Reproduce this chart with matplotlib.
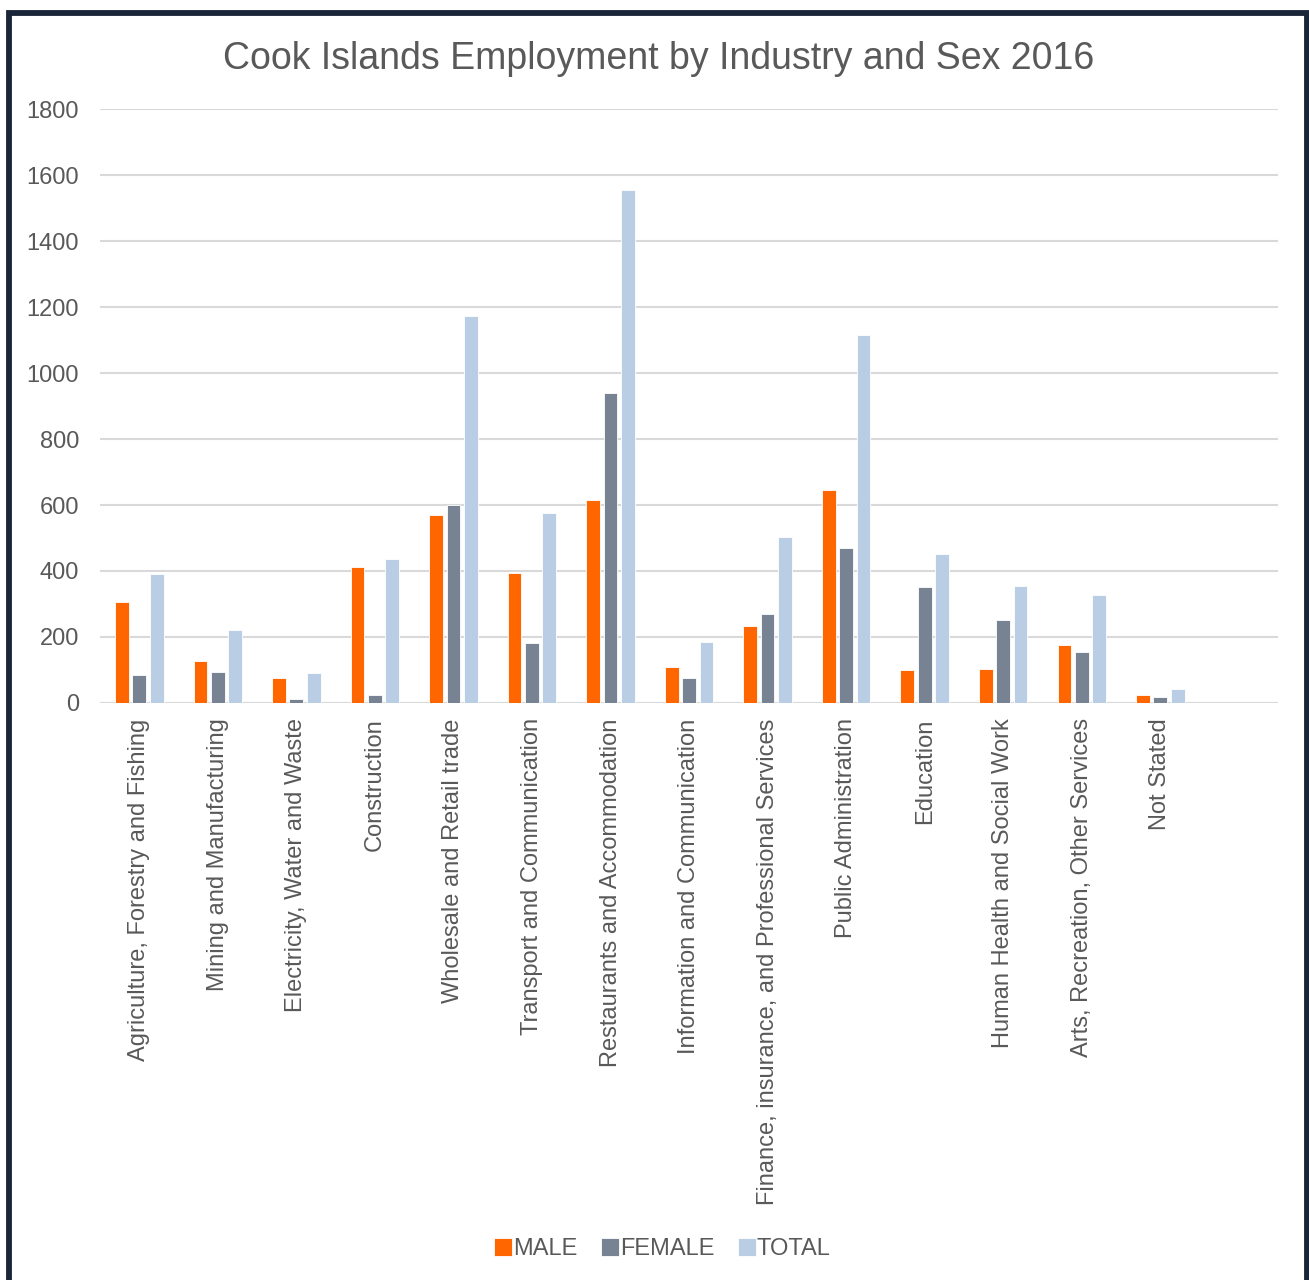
import numpy as np
import matplotlib.pyplot as plt
from matplotlib.patches import Rectangle

plt.rcParams['font.family'] = ['Liberation Sans', 'DejaVu Sans']

# Employment counts by industry, 2016
industries = [
    "Agriculture, Forestry and Fishing",
    "Mining and Manufacturing",
    "Electricity, Water and Waste",
    "Construction",
    "Wholesale and Retail trade",
    "Transport and Communication",
    "Restaurants and Accommodation",
    "Information and Communication",
    "Finance, insurance, and Professional Services",
    "Public Administration",
    "Education",
    "Human Health and Social Work",
    "Arts, Recreation, Other Services",
    "Not Stated",
]
male = [305, 126, 77, 411, 571, 393, 614, 109, 232, 645, 99, 104, 175, 23]
female = [86, 95, 13, 25, 601, 182, 940, 75, 270, 469, 353, 251, 153, 18]
total = [391, 221, 90, 436, 1172, 575, 1554, 184, 502, 1114, 452, 355, 328, 41]

series_names = ["MALE", "FEMALE", "TOTAL"]
colors = ["#FF6600", "#778292", "#B9CDE5"]
text_col = "#595959"

fig = plt.figure(figsize=(13.09, 12.8), dpi=100)
ax = fig.add_axes([0.0764, 0.4508, 0.9, 0.464])

x = np.arange(len(industries))
w = 0.175
step = 0.221
for i, (vals, name, c) in enumerate(zip([male, female, total], series_names, colors)):
    ax.bar(x + (i - 1) * step, vals, width=w, color=c, label=name,
           edgecolor="white", linewidth=0.6, zorder=3)

ax.set_xlim(-0.5, len(industries) + 0.5)
ax.set_ylim(0, 1800)
ax.set_yticks(np.arange(0, 1801, 200))
ax.yaxis.grid(True, color="#D9D9D9", linewidth=1.5, zorder=0)
ax.set_axisbelow(True)
for s in ax.spines.values():
    s.set_visible(False)
ax.axhline(0, color="#D9D9D9", linewidth=1.5, zorder=1)

ax.set_xticks(x)
ax.set_xticklabels(industries, rotation=90, fontsize=17, color=text_col)
ax.tick_params(axis="x", length=0, pad=11)
ax.tick_params(axis="y", length=0, pad=15, labelsize=17, labelcolor=text_col)

fig.text(0.503, 0.954, "Cook Islands Employment by Industry and Sex 2016",
         ha="center", va="center", fontsize=27, color=text_col)

leg = fig.legend(loc="center", bbox_to_anchor=(0.506, 0.024), ncol=3,
                 frameon=False, fontsize=17, handlelength=0.75, handleheight=0.75,
                 handletextpad=0.05, columnspacing=1.0)
for t in leg.get_texts():
    t.set_color(text_col)

# dark frame around the chart
fig.patches.append(Rectangle((8.5 / 1309, -0.05), (1306.5 - 8.5) / 1309, 1.05 - 12.5 / 1280,
                             transform=fig.transFigure, fill=False,
                             edgecolor="#1B2538", linewidth=4.2))

fig.savefig("out.png", dpi=100)
